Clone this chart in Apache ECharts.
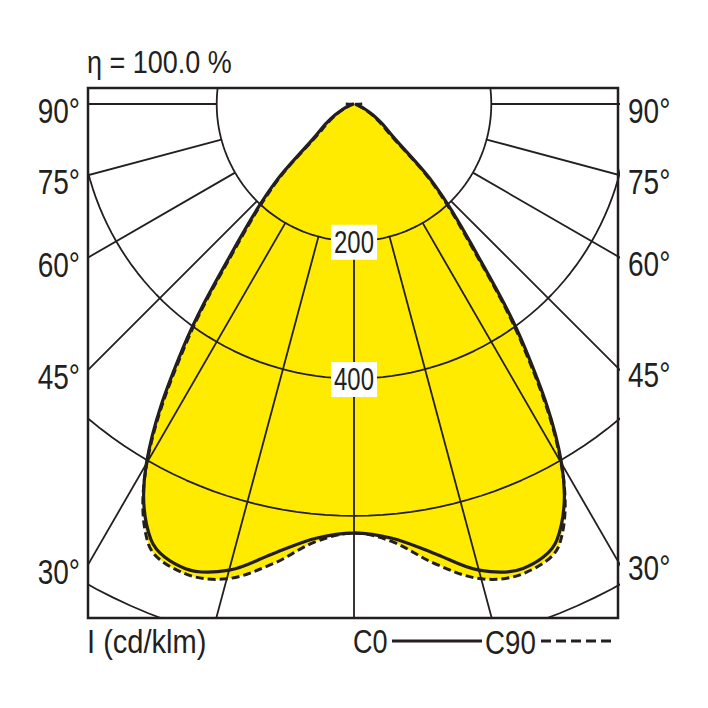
<!DOCTYPE html>
<html><head><meta charset="utf-8">
<script src="https://cdn.jsdelivr.net/npm/echarts@6/dist/echarts.min.js"></script>
<style>html,body{margin:0;padding:0;background:#fff}#c{width:708px;height:708px}</style>
</head><body><div id="c"></div>
<script>
// ---- data ----
const gammaAngles   = [0,5,10,15,20,25,30,35,40,45,50,55,60,65,70,75,80,85,90];
const intensityC0   = [625,635,664,703,720,700,605,435,265,165,75,50,32,18,9,5,3,4,12];
const intensityC90  = [625,640,680,716,727,708,603,428,258,158,68,45,28,15,7,3,2,1,0];
const ringValues    = [200,400,600,800];
const ringLabelValues = [200,400];
const radialAngles  = [0,15,30,45,60,75,90];
const sideLabelAngles = [90,75,60,45,30];
const efficiencyText = 'η = 100.0 %';
const unitText = 'I (cd/klm)';
const seriesNames = ['C0','C90'];

// ---- styling / layout ----
const INK = '#231f20', YELLOW = '#ffeb00';
const FONT = '"Liberation Sans",Arial,sans-serif';
const X_MIN = -387.5, X_MAX = 384.6, Y_MIN = -748.7, Y_MAX = 23.3;
const rad = d => d * Math.PI / 180;

function curvePoints(vals){
  const pts = [];
  for (let i = gammaAngles.length - 1; i >= 0; i--) {
    const a = rad(gammaAngles[i]);
    pts.push([-vals[i]*Math.sin(a), -vals[i]*Math.cos(a)]);
  }
  for (let i = 1; i < gammaAngles.length; i++) {
    const a = rad(gammaAngles[i]);
    pts.push([vals[i]*Math.sin(a), -vals[i]*Math.cos(a)]);
  }
  return pts;
}
const ptsC0 = curvePoints(intensityC0);
const ptsC90 = curvePoints(intensityC90);

const series = [];
function shapeSeries(pts, kind, z, extra){
  return {
    type:'custom', coordinateSystem:'cartesian2d', data:[[0,0]], encode:{x:0,y:1},
    silent:true, z:z, clip:true,
    renderItem:(params, api) => {
      const p = pts.map(q => api.coord(q));
      if (kind === 'fill') return {type:'polygon', shape:{points:p, smooth:0.35}, style:{fill:YELLOW}};
      return {type:'polyline', shape:{points:p, smooth:0.35},
        style:Object.assign({stroke:INK, fill:'none', lineWidth:3.2}, extra)};
    }
  };
}
series.push(shapeSeries(ptsC90, 'fill', 1));
series.push(shapeSeries(ptsC0, 'fill', 1));

function gridLine(data){
  series.push({type:'line', data:data, symbol:'none', showSymbol:false, silent:true, z:2, clip:true,
    lineStyle:{color:INK, width:1.8}});
}
ringValues.forEach(r => {
  const d = [];
  for (let a = 0; a <= 360; a += 2) d.push([r*Math.sin(rad(a)), -r*Math.cos(rad(a))]);
  gridLine(d);
});
const R0 = ringValues[0], RF = 1600;
radialAngles.forEach(t => {
  const s = Math.sin(rad(t)), c = Math.cos(rad(t));
  gridLine([[-R0*s, -R0*c], [-RF*s, -RF*c]]);
  if (t !== 0) gridLine([[R0*s, -R0*c], [RF*s, -RF*c]]);
});

series.push(shapeSeries(ptsC90, 'line', 3, {lineDash:[8,4], lineWidth:3}));
series.push(shapeSeries(ptsC0, 'line', 4, {lineWidth:3.2}));

// text placed through the axes
function textSeries(data, opts){
  return {type:'custom', coordinateSystem:'cartesian2d', data:data, encode:{x:0,y:1},
    silent:true, z:6, clip:false,
    renderItem:(params, api) => {
      const c = api.coord([api.value(0), api.value(1)]);
      return {type:'text', x:c[0] + opts.dx, y:c[1] + opts.dy, scaleX:opts.sx,
        style:Object.assign({text:opts.fmt(api.value(2)), font:opts.size + 'px ' + FONT, fill:INK,
          align:opts.align, verticalAlign:'middle'}, opts.style || {})};
    }};
}
series.push(textSeries(ringLabelValues.map(v => [0, -v, v]),
  {dx:0, dy:1, sx:0.77, size:31, align:'center', fmt:v => String(v),
   style:{backgroundColor:'#fff', padding:[3,4,1,4]}}));
const yHit = (x, t) => t === 90 ? 0 : -Math.abs(x) / Math.tan(rad(t));
series.push(textSeries(sideLabelAngles.map(t => [X_MIN, yHit(X_MIN, t), t]),
  {dx:-8, dy:7, sx:0.8, size:35, align:'right', fmt:v => v + '°'}));
series.push(textSeries(sideLabelAngles.map(t => [X_MAX, yHit(X_MAX, t), t]),
  {dx:10, dy:7, sx:0.8, size:35, align:'left', fmt:v => v + '°'}));

const chart = echarts.init(document.getElementById('c'), null, {renderer:'svg'});
chart.setOption({
  animation:false,
  backgroundColor:'#fff',
  grid:{left:88, top:88, width:530, height:530, show:true, borderColor:INK, borderWidth:2.5, backgroundColor:'transparent'},
  xAxis:{type:'value', min:X_MIN, max:X_MAX, show:false},
  yAxis:{type:'value', min:Y_MIN, max:Y_MAX, show:false},
  series:series,
  graphic:[
    {type:'text', x:87, y:62, scaleX:0.87, style:{text:efficiencyText, font:'31px ' + FONT, fill:INK, verticalAlign:'middle'}},
    {type:'text', x:87, y:642, scaleX:0.88, style:{text:unitText, font:'33px ' + FONT, fill:INK, verticalAlign:'middle'}},
    {type:'text', x:353, y:642, scaleX:0.82, style:{text:seriesNames[0], font:'33px ' + FONT, fill:INK, verticalAlign:'middle'}},
    {type:'line', shape:{x1:392, y1:641, x2:482, y2:641}, style:{stroke:INK, lineWidth:3}},
    {type:'text', x:485, y:642, scaleX:0.84, style:{text:seriesNames[1], font:'33px ' + FONT, fill:INK, verticalAlign:'middle'}},
    {type:'line', shape:{x1:541, y1:641, x2:616, y2:641}, style:{stroke:INK, lineWidth:3, lineDash:[10,5]}}
  ]
});
</script></body></html>
